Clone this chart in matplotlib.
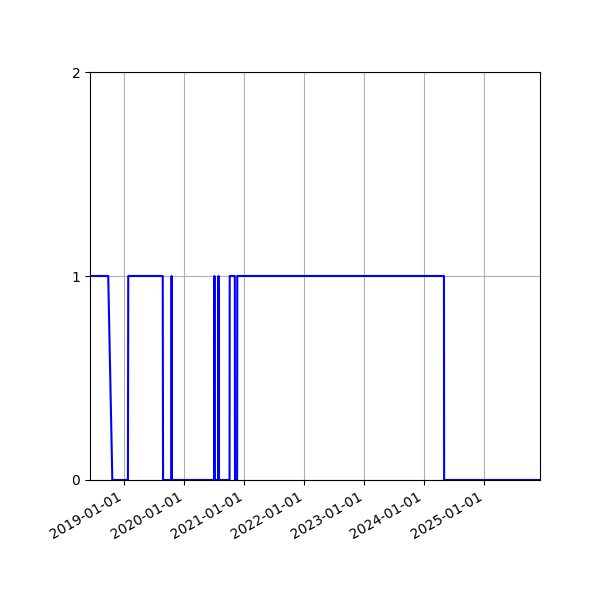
import matplotlib
matplotlib.use('Agg')
import matplotlib.pyplot as plt
import matplotlib.dates as mdates
import numpy as np
import pandas as pd

fechas = ['2018-06-05', '2018-09-24', '2018-10-19', '2019-01-22', '2019-01-24',
          '2019-08-22', '2019-08-24', '2019-10-14', '2019-10-15', '2019-10-16',
          '2020-07-01', '2020-07-02', '2020-07-03', '2020-07-26', '2020-07-27',
          '2020-07-28', '2020-10-02', '2020-10-03', '2020-11-03', '2020-11-04',
          '2020-11-17', '2020-11-18', '2024-04-30', '2024-05-01', '2025-12-06']
valores = [1, 1, 0, 0, 1,
           1, 0, 0, 1, 0,
           0, 1, 0, 0, 1,
           0, 0, 1, 1, 0,
           0, 1, 1, 0, 0]

x = pd.to_datetime(fechas)

fig, ax = plt.subplots(figsize=(6, 6), dpi=100)
ax.plot(x, valores, color='blue')
ax.set_xlim(x[0], x[-1])
ax.set_ylim(0, 2)
ax.set_yticks([0, 1, 2])
ax.xaxis.set_major_locator(mdates.YearLocator())
ax.xaxis.set_major_formatter(mdates.DateFormatter('%Y-%m-%d'))
ax.grid()
fig.autofmt_xdate()
fig.subplots_adjust(left=0.15, right=0.9, top=0.88, bottom=0.2)
plt.savefig('out.png')
